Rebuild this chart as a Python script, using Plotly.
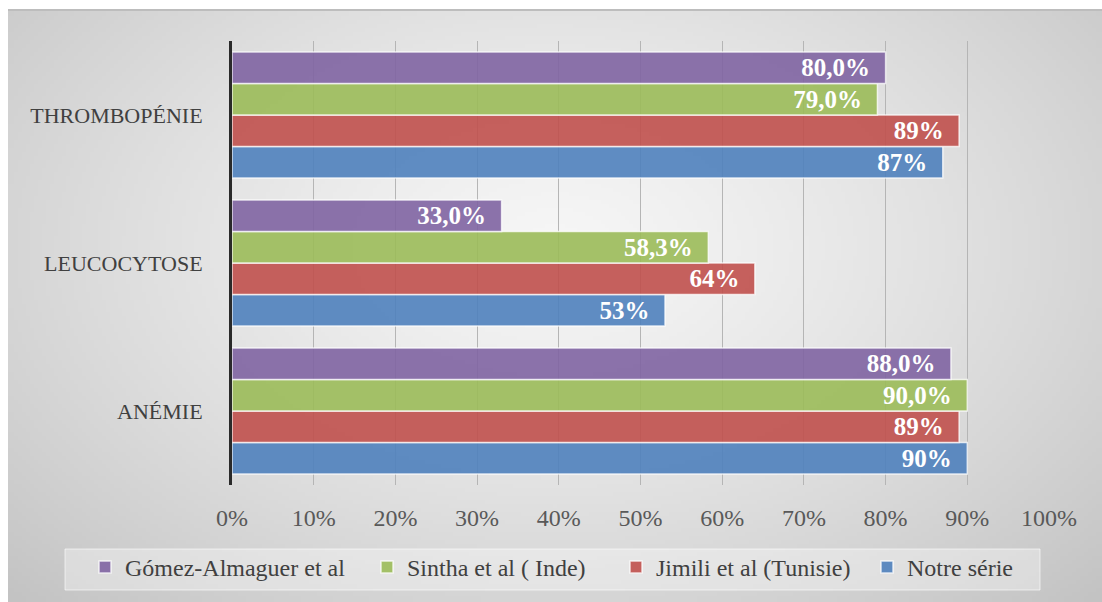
import base64
import struct
import zlib

import numpy as np
import plotly.graph_objects as go

# ---- data -------------------------------------------------------------
categories = ["ANÉMIE", "LEUCOCYTOSE", "THROMBOPÉNIE"]

notre_serie = [90, 53, 87]
jimili = [89, 64, 89]
sintha = [90.0, 58.3, 79.0]
gomez = [88.0, 33.0, 80.0]

series_names = [
    "Notre série",
    "Jimili et al (Tunisie)",
    "Sintha et al ( Inde)",
    "Gómez-Almaguer et al",
]
series_values = [notre_serie, jimili, sintha, gomez]
series_decimals = [0, 0, 1, 1]
series_colors = [
    "rgba(79,129,189,0.9)",
    "rgba(192,80,77,0.9)",
    "rgba(155,187,89,0.9)",
    "rgba(128,100,162,0.9)",
]

x_ticks = list(range(0, 101, 10))

# ---- canvas geometry -------------------------------------------------
W, H = 1102, 602
ML, MR, MT, MB = 232, 53, 41, 117
PW, PH = W - ML - MR, H - MT - MB

# left edge (px) of each key entry, one legend per series
legend_ids = ["legend4", "legend3", "legend2", "legend"]
legend_left_px = [867, 616, 367, 85]


def px_to_paper(x, y):
    return (x - ML) / PW, (H - MB - y) / PH


def gradient_png(w, h):
    """Soft grey radial backdrop, encoded as a grayscale PNG data URI."""
    xs = np.linspace(0, 1, w)
    ys = np.linspace(0, 1, h)
    X, Y = np.meshgrid(xs, ys)
    d = np.sqrt(((X - 0.5) / 0.52) ** 2 + ((Y - 0.40) / 0.62) ** 2)
    v = 246 - 34 * d ** 1.3
    v = np.clip(v, 195, 247).astype(np.uint8)
    raw = b"".join(b"\x00" + row.tobytes() for row in v)

    def chunk(tag, data):
        c = struct.pack(">I", len(data)) + tag + data
        return c + struct.pack(">I", zlib.crc32(tag + data) & 0xFFFFFFFF)

    png = b"\x89PNG\r\n\x1a\n"
    png += chunk(b"IHDR", struct.pack(">IIBBBBB", w, h, 8, 0, 0, 0, 0))
    png += chunk(b"IDAT", zlib.compress(raw, 9))
    png += chunk(b"IEND", b"")
    return "data:image/png;base64," + base64.b64encode(png).decode()


def fmt(v, decimals):
    return f"{v:.{decimals}f}".replace(".", ",") + "%"


SERIF = "Liberation Serif"

fig = go.Figure()
for name, vals, dec, col, lid in zip(
    series_names, series_values, series_decimals, series_colors, legend_ids
):
    fig.add_trace(
        go.Bar(
            name=name,
            legend=lid,
            y=categories,
            x=vals,
            orientation="h",
            marker=dict(color=col, line=dict(color="rgba(255,255,255,0.75)", width=1.5)),
            text=[fmt(v, dec) for v in vals],
            texttemplate="%{text}\u2002",
            textposition="inside",
            insidetextanchor="end",
            textangle=0,
            constraintext="none",
            textfont=dict(family=SERIF, size=25, color="white", weight="bold"),
            hoverinfo="skip",
        )
    )

# backdrop
bx0, by0 = px_to_paper(8, 10)
bx1, by1 = px_to_paper(W, H)
fig.add_layout_image(
    dict(
        source=gradient_png(274, 148),
        xref="paper", yref="paper",
        x=bx0, y=by0,
        sizex=bx1 - bx0, sizey=by0 - by1,
        xanchor="left", yanchor="top",
        sizing="stretch",
        layer="below",
    )
)
# top frame line
fig.add_shape(
    type="line", xref="paper", yref="paper",
    x0=bx0, x1=bx1, y0=by0, y1=by0,
    line=dict(color="#BDBDBD", width=2),
)
# legend panel
kx0, ky0 = px_to_paper(65, 549)
kx1, ky1 = px_to_paper(1040, 590)
fig.add_shape(
    type="rect", xref="paper", yref="paper",
    x0=kx0, x1=kx1, y0=ky1, y1=ky0,
    fillcolor="rgba(255,255,255,0.35)",
    line=dict(color="rgba(255,255,255,0.6)", width=1),
    layer="above",
)

legend_layouts = {}
for lid, left in zip(legend_ids, legend_left_px):
    lx, ly = px_to_paper(left, 545)
    legend_layouts[lid] = dict(
        orientation="h",
        xref="paper", yref="paper",
        x=lx, xanchor="left",
        y=ly, yanchor="top",
        font=dict(family=SERIF, size=24, color="#404040"),
        bgcolor="rgba(0,0,0,0)",
        borderwidth=0,
    )

fig.update_layout(
    width=W,
    height=H,
    margin=dict(l=ML, r=MR, t=MT, b=MB, pad=0, autoexpand=False),
    paper_bgcolor="white",
    plot_bgcolor="rgba(0,0,0,0)",
    barmode="group",
    bargap=0.15,
    bargroupgap=0,
    showlegend=True,
    **legend_layouts,
    xaxis=dict(
        range=[0, 100],
        tickvals=x_ticks,
        ticktext=[f"{t}%" for t in x_ticks],
        showgrid=True,
        gridcolor="#B5B5B5",
        gridwidth=1.3,
        zeroline=False,
        showline=False,
        ticks="",
        ticklabelstandoff=16,
        tickfont=dict(family=SERIF, size=24, color="#595959"),
        fixedrange=True,
    ),
    yaxis=dict(
        categoryorder="array",
        categoryarray=categories,
        showgrid=False,
        showline=True,
        linecolor="#2A2A2A",
        linewidth=3,
        ticks="",
        ticklabelstandoff=22,
        tickfont=dict(family=SERIF, size=22, color="#404040"),
        fixedrange=True,
    ),
)

fig.write_html("out.html")
